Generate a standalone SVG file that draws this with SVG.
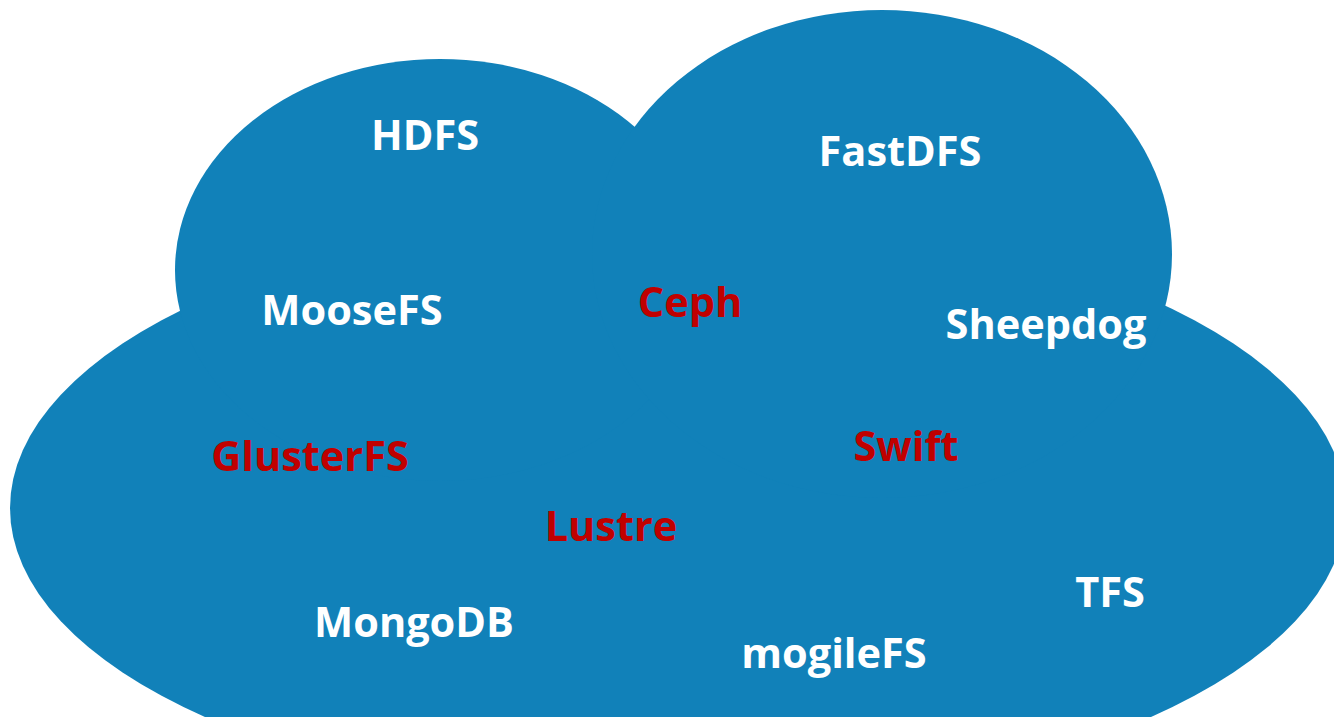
<svg xmlns="http://www.w3.org/2000/svg" width="1334" height="717" viewBox="0 0 1334 717">
<style>
.cloud{fill:#1181B9}
.lbl{font-family:"Open Sans","Liberation Sans",sans-serif;font-weight:700;font-size:41.5px;text-anchor:middle}
.w{fill:#FFFFFF}
.r{fill:#C00000}
</style>
<rect width="1334" height="717" fill="#FFFFFF"/>
<g id="cloud">
<ellipse class="cloud" cx="678" cy="508" rx="668" ry="296"/>
<ellipse class="cloud" cx="440" cy="270" rx="265" ry="211"/>
<ellipse class="cloud" cx="882" cy="254" rx="290" ry="244"/>
</g>
<g id="connectors"></g>
<g id="hdfs"><text class="lbl w" x="425" y="150">HDFS</text></g>
<g id="fastdfs"><text class="lbl w" x="900" y="166">FastDFS</text></g>
<g id="moosefs"><text class="lbl w" x="352" y="325">MooseFS</text></g>
<g id="ceph"><text class="lbl r" x="690" y="317">Ceph</text></g>
<g id="sheepdog"><text class="lbl w" x="1046" y="339">Sheepdog</text></g>
<g id="glusterfs"><text class="lbl r" x="310" y="471">GlusterFS</text></g>
<g id="swift"><text class="lbl r" x="906" y="461">Swift</text></g>
<g id="lustre"><text class="lbl r" x="611" y="541">Lustre</text></g>
<g id="tfs"><text class="lbl w" x="1110" y="607">TFS</text></g>
<g id="mongodb"><text class="lbl w" x="414" y="637">MongoDB</text></g>
<g id="mogilefs"><text class="lbl w" x="834" y="668">mogileFS</text></g>
</svg>
